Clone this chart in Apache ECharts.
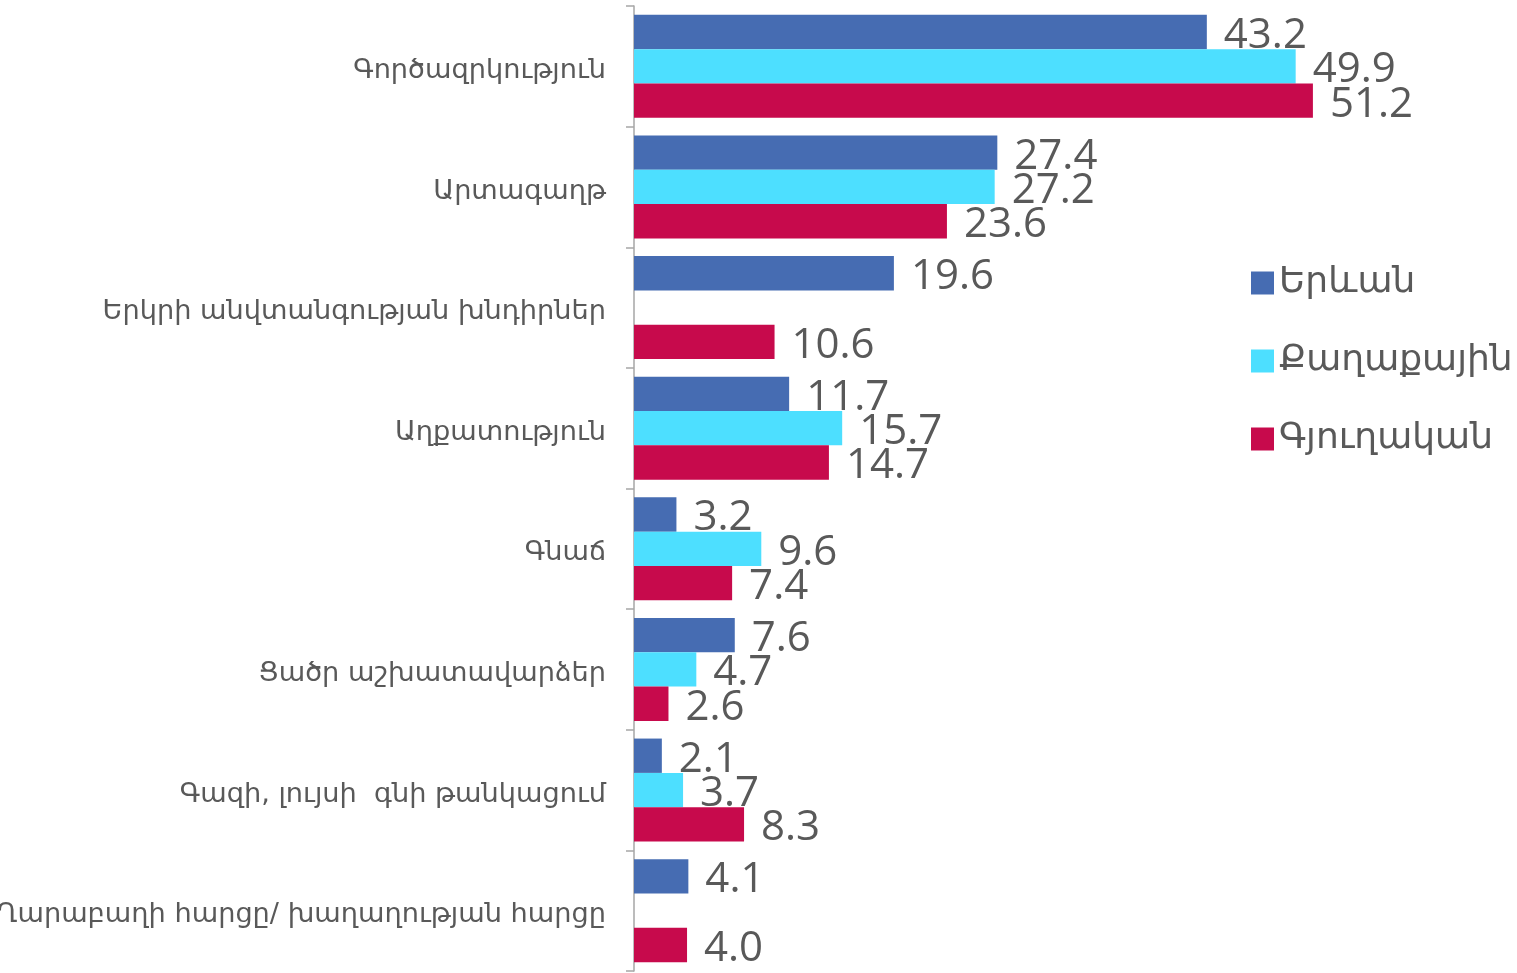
<!DOCTYPE html>
<html>
<head>
<meta charset="utf-8">
<script src="https://cdn.jsdelivr.net/npm/echarts@6/dist/echarts.min.js"></script>
<style>
html,body{margin:0;padding:0;background:#fff;}
#chart{width:1517px;height:973px;}
</style>
</head>
<body>
<div id="chart"></div>
<script>
const categories = [
  'Գործազրկություն',
  'Արտագաղթ',
  'Երկրի անվտանգության խնդիրներ',
  'Աղքատություն',
  'Գնաճ',
  'Ցածր աշխատավարձեր',
  'Գազի, լույսի  գնի թանկացում',
  'Ղարաբաղի հարցը/ խաղաղության հարցը'
];
const seriesNames = ['Երևան', 'Քաղաքային', 'Գյուղական'];
const yerevan = [43.2, 27.4, 19.6, 11.7, 3.2, 7.6, 2.1, 4.1];
const urban   = [49.9, 27.2, null, 15.7, 9.6, 4.7, 3.7, null];
const rural   = [51.2, 23.6, 10.6, 14.7, 7.4, 2.6, 8.3, 4.0];
const colors = ['#466CB2', '#4DDFFF', '#C70A4C'];

const armFont = '"DejaVu Sans", "Noto Sans", sans-serif';
const numFont = '"Open Sans", "Noto Sans", sans-serif';

function makeSeries(name, data, color) {
  return {
    name: name,
    type: 'bar',
    data: data.map(v => (v === null ? '-' : v)),
    barGap: '0%',
    barCategoryGap: '14.6%',
    itemStyle: { color: color },
    label: {
      show: true,
      position: 'right',
      distance: 17,
      offset: [0, 4],
      fontFamily: numFont,
      fontSize: 42,
      color: '#595959',
      formatter: p => Number(p.value).toFixed(1)
    },
    emphasis: { disabled: true },
    animation: false
  };
}

const chart = echarts.init(document.getElementById('chart'), null, { renderer: 'canvas' });
chart.setOption({
  animation: false,
  grid: { left: 634, top: 6, width: 795.6, height: 965, containLabel: false, outerBoundsMode: 'none' },
  xAxis: {
    type: 'value', min: 0, max: 60, show: false
  },
  yAxis: {
    type: 'category',
    data: categories,
    inverse: true,
    axisLine: { show: true, lineStyle: { color: '#A6A6A6', width: 1.5 } },
    axisTick: { show: true, length: 8, lineStyle: { color: '#A6A6A6', width: 1.5 } },
    axisLabel: {
      margin: 28, fontFamily: armFont, fontSize: 27.2, color: '#595959',
      formatter: v => '{a|' + v + '}',
      rich: { a: { fontFamily: armFont, fontSize: 27.2, color: '#595959', padding: [9, 0, 0, 0] } }
    }
  },
  legend: {
    orient: 'vertical',
    left: 1246,
    top: 260,
    itemWidth: 23,
    itemHeight: 23,
    itemGap: 42,
    icon: 'rect',
    data: seriesNames,
    textStyle: { fontFamily: armFont, fontSize: 36, color: '#595959' }
  },
  series: [
    makeSeries(seriesNames[0], yerevan, colors[0]),
    makeSeries(seriesNames[1], urban, colors[1]),
    makeSeries(seriesNames[2], rural, colors[2])
  ]
});
</script>
</body>
</html>
